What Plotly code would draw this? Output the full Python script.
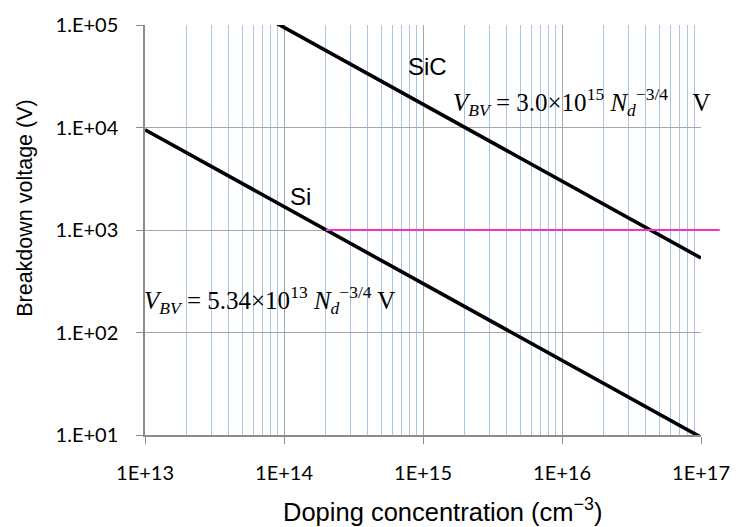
import math
import plotly.graph_objects as go

# ---- data ----
si_doping = [1e13, 1e17]            # cm^-3
si_voltage = [9500, 9.5]            # V
sic_doping = [1e13, 1e17]
sic_voltage = [533000, 533]
pink_level = 1000                   # V
pink_start = 2.0e14                 # cm^-3 (Si crossing)
pink_end = 1e17

x_tickvals = [1e13, 1e14, 1e15, 1e16, 1e17]
x_ticktext = ["1E+13", "1E+14", "1E+15", "1E+16", "1E+17"]
y_tickvals = [1e1, 1e2, 1e3, 1e4, 1e5]
y_ticktext = ["1.E+01", "1.E+02", "1.E+03", "1.E+04", "1.E+05"]
x_minor = [m * 10 ** e for e in range(13, 17) for m in range(2, 10)]

W, H = 742, 527
L, R, T, B = 145, 31, 22, 92
pw, ph = W - L - R, H - T - B


def px(xp):
    return (xp - L) / pw


def py(yp):
    return (H - B - yp) / ph


GRID = "#A6A6A6"
AXIS = "#8C8C8C"
MINOR = "#A9C6E8"

fig = go.Figure()
fig.add_trace(go.Scatter(x=si_doping, y=si_voltage, mode="lines",
                         line=dict(color="black", width=3.6), hoverinfo="skip"))
fig.add_trace(go.Scatter(x=sic_doping, y=sic_voltage, mode="lines",
                         line=dict(color="black", width=3.6), hoverinfo="skip"))
fig.add_trace(go.Scatter(x=[pink_start, pink_end], y=[pink_level, pink_level], mode="lines",
                         line=dict(color="#F532C8", width=2), hoverinfo="skip"))

# pink line extension past the right edge of the plot
fig.add_shape(type="line", xref="paper", yref="y", x0=1.0, x1=px(730),
              y0=pink_level, y1=pink_level, line=dict(color="#F532C8", width=2))

tick_font = dict(family="Lato, Arial", size=20, color="black")

fig.update_xaxes(type="log", range=[13, 17], tickmode="array",
                 tickvals=x_tickvals, ticktext=x_ticktext,
                 showgrid=True, gridcolor=GRID, gridwidth=1,
                 showline=True, linecolor=AXIS, linewidth=1.5,
                 ticks="outside", ticklen=7, tickcolor=AXIS,
                 tickfont=tick_font, ticklabelstandoff=12,
                 minor=dict(tickmode="array", tickvals=x_minor, showgrid=True,
                            gridcolor=MINOR, gridwidth=1, ticks=""),
                 zeroline=False)
fig.update_yaxes(type="log", range=[1, 5], tickmode="array",
                 tickvals=y_tickvals, ticktext=y_ticktext,
                 showgrid=True, gridcolor=GRID, gridwidth=1,
                 showline=True, linecolor=AXIS, linewidth=1.5,
                 ticks="outside", ticklen=7, tickcolor=AXIS,
                 tickfont=tick_font, ticklabelstandoff=14,
                 zeroline=False)

ann_font = dict(family="Liberation Sans, Arial", size=24, color="black")
eq_font = dict(family="Liberation Serif, Times New Roman", size=25, color="black")

annotations = [
    dict(text="Breakdown voltage (V)", x=px(23), y=py(206), textangle=-90,
         font=dict(family="Liberation Sans, Arial", size=21.5, color="black")),
    dict(text="Doping concentration (cm<sup>−3</sup>)", x=px(448), y=py(511),
         font=dict(family="Liberation Sans, Arial", size=25.5, color="black")),
    dict(text="SiC", x=px(433), y=py(64), font=ann_font),
    dict(text="Si", x=px(303), y=py(195), font=ann_font),
    dict(text="<i>V</i><sub><i>BV</i></sub> = 3.0×10<sup>15</sup> <i>N</i><sub><i>d</i></sub><sup>−3/4</sup>    V",
         x=px(456), y=py(100), xanchor="left", font=eq_font),
    dict(text="<i>V</i><sub><i>BV</i></sub> = 5.34×10<sup>13</sup> <i>N</i><sub><i>d</i></sub><sup>−3/4</sup> V",
         x=px(142), y=py(299), xanchor="left", font=eq_font),
]
for a in annotations:
    a.update(xref="paper", yref="paper", showarrow=False)
    a.setdefault("xanchor", "center")
    a.setdefault("yanchor", "middle")

fig.update_layout(width=W, height=H, margin=dict(l=L, r=R, t=T, b=B),
                  paper_bgcolor="white", plot_bgcolor="white",
                  showlegend=False, annotations=annotations)

fig.write_html("out.html", include_plotlyjs=True)
